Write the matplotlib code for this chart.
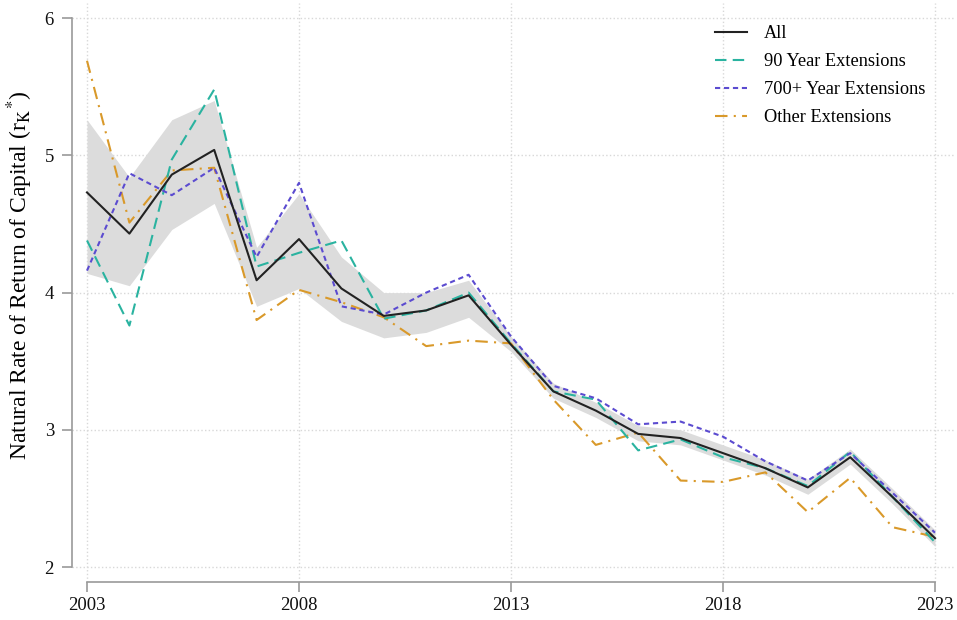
import matplotlib
matplotlib.use("Agg")
import matplotlib.pyplot as plt
import numpy as np

years = list(range(2003, 2024))

all_ext = [4.73, 4.43, 4.86, 5.04, 4.09, 4.39, 4.03, 3.83, 3.87, 3.98, 3.62,
           3.28, 3.14, 2.97, 2.94, 2.83, 2.72, 2.58, 2.80, 2.51, 2.21]
all_lo = [4.14, 4.05, 4.46, 4.65, 3.90, 4.03, 3.79, 3.67, 3.71, 3.82, 3.57,
          3.23, 3.09, 2.92, 2.89, 2.78, 2.67, 2.53, 2.75, 2.46, 2.15]
all_hi = [5.26, 4.84, 5.26, 5.40, 4.33, 4.72, 4.26, 4.00, 4.00, 4.09, 3.68,
          3.34, 3.20, 3.03, 3.00, 2.89, 2.78, 2.64, 2.86, 2.57, 2.27]
ext_90 = [4.38, 3.76, 4.97, 5.48, 4.19, 4.29, 4.38, 3.81, 3.87, 4.00, 3.63,
          3.28, 3.22, 2.85, 2.93, 2.80, 2.72, 2.59, 2.84, 2.51, 2.18]
ext_700 = [4.16, 4.87, 4.71, 4.91, 4.26, 4.80, 3.90, 3.84, 4.00, 4.13, 3.68,
           3.32, 3.23, 3.04, 3.06, 2.95, 2.77, 2.63, 2.83, 2.54, 2.25]
ext_other = [5.69, 4.51, 4.89, 4.91, 3.80, 4.02, 3.93, 3.82, 3.61, 3.65, 3.63,
             3.22, 2.89, 2.98, 2.63, 2.62, 2.69, 2.40, 2.65, 2.29, 2.22]

x_ticks = [2003, 2008, 2013, 2018, 2023]
y_ticks = [2, 3, 4, 5, 6]

plt.rcParams['font.family'] = ['Liberation Serif', 'DejaVu Serif']
plt.rcParams['mathtext.fontset'] = 'stix'

fig = plt.figure(figsize=(9.57, 6.2), dpi=100)
ax = fig.add_axes([72 / 957, 38 / 620, (955 - 72) / 957, (620 - 38) / 620 - 0.005])

ax.fill_between(years, all_lo, all_hi, color='#dcdcdc', lw=0, zorder=1)
ax.plot(years, all_ext, color='#222222', lw=1.5, label='All', zorder=5)
ax.plot(years, ext_90, color='#2ab3a0', lw=1.5, dashes=(5.5, 3), label='90 Year Extensions', zorder=4)
ax.plot(years, ext_700, color='#5b4bd0', lw=1.5, dashes=(2.5, 1.8), label='700+ Year Extensions', zorder=4)
ax.plot(years, ext_other, color='#d9992a', lw=1.5, dashes=(6, 3, 1, 3), label='Other Extensions', zorder=3)

ax.set_xlim(2003 - 15 / 42.4, 2003 + (955 - 87) / 42.4)
ax.set_ylim(2 - 15 / 137.25, 6.11)
ax.set_xticks(x_ticks)
ax.set_yticks(y_ticks)
ax.grid(True, color='#d8d8d8', ls=':', lw=1.0)
ax.set_axisbelow(True)

for s in ['top', 'right']:
    ax.spines[s].set_visible(False)
ax.spines['left'].set_bounds(2, 6)
ax.spines['bottom'].set_bounds(2003, 2023)
for s in ['left', 'bottom']:
    ax.spines[s].set_color('#9a9a9a')
    ax.spines[s].set_linewidth(1.2)
ax.tick_params(colors='#9a9a9a', labelcolor='#111111', labelsize=13.5, length=7, width=1.2)
ax.tick_params(axis='y', pad=6)

ax.set_ylabel(r'Natural Rate of Return of Capital (r$_\mathrm{K}$$^{*}$)', fontsize=17)
ax.yaxis.set_label_coords(-0.042, 0.53)

leg = ax.legend(loc='upper right', frameon=False, fontsize=13.2, handlelength=1.75,
                labelspacing=0.6, bbox_to_anchor=(0.985, 0.99), handletextpad=0.9)

fig.savefig('out.png', dpi=100)
